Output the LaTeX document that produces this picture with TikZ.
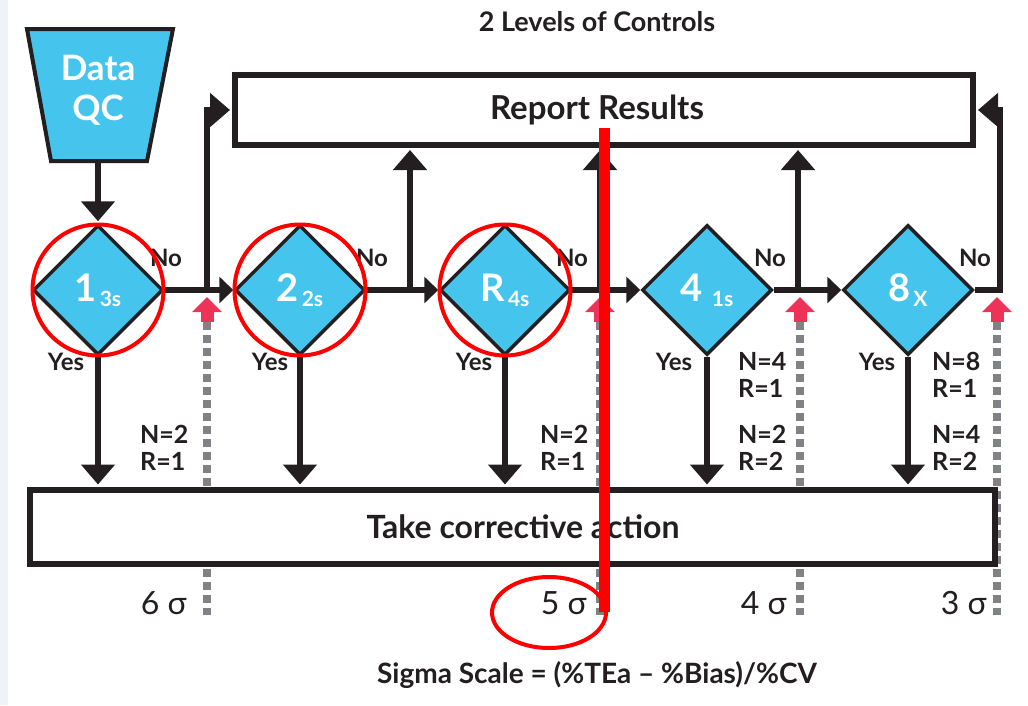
\documentclass[tikz,border=0pt]{standalone}
\usepackage{fontspec}
\setmainfont{Lato}
\usetikzlibrary{arrows.meta,shapes.geometric,calc}
\definecolor{qcblue}{HTML}{45C5EE}
\definecolor{ink}{HTML}{231F20}
\definecolor{markred}{HTML}{FF0000}
\definecolor{limitpink}{HTML}{EE3358}
\definecolor{dashgray}{HTML}{808285}
\definecolor{edgeblue}{HTML}{EEF3FB}
\newcommand\rulesub[2]{#1\kern3pt\raisebox{-5pt}{\fontsize{21}{22}\selectfont #2}}
\tikzset{
  rule/.style={diamond, draw=ink, line width=3.5pt, fill=qcblue, minimum width=130pt, minimum height=130pt, inner sep=0pt, text=white, font=\fontsize{38}{40}\selectfont\bfseries},
  bigbox/.style={draw=ink, line width=6pt, fill=white, inner sep=0pt, text=ink, font=\fontsize{33}{36}\selectfont\bfseries},
  wire/.style={draw=ink, line width=5.5pt},
  flow/.style={wire, shorten >=2pt, -{Triangle[width=33pt,length=20pt]}},
  flowin/.style={wire, -{Triangle[width=26pt,length=14pt]}},
  yesno/.style={text=ink, inner sep=0pt, font=\fontsize{24}{26}\selectfont\bfseries},
  nr/.style={anchor=west, align=left, text=ink, inner sep=0pt, font=\fontsize{25}{27}\selectfont\bfseries},
  limit/.style={draw=dashgray, line width=8pt, dash pattern=on 8pt off 5pt},
  limitarrow/.style={draw=limitpink, line width=13pt, -{Triangle[width=29pt,length=15pt]}},
  sigmatext/.style={anchor=east, text=ink, inner sep=0pt, font=\fontsize{32}{34}\selectfont},
  ring/.style={circle, draw=markred, line width=4pt, minimum size=131pt},
}
\begin{document}
\begin{tikzpicture}[x=1pt,y=-1pt]
\useasboundingbox (0,0) rectangle (1028,705);
\fill[white] (0,0) rectangle (1028,705);
\fill[edgeblue] (0,0) rectangle (8,705);

% limits of the sigma scale, behind the boxes
\coordinate (lim6) at (207,322);
\coordinate (lim5) at (600,322);
\coordinate (lim4) at (800,322);
\coordinate (lim3) at (997,322);
\draw[limit] (lim6) -- ++(0,293);
\draw[limit] (lim5) -- ++(0,293);
\draw[limit] (lim4) -- ++(0,293);
\draw[limit] (lim3) -- ++(0,293);

\node[font=\fontsize{27}{30}\selectfont\bfseries, text=ink] (title) at (597,22) {2 Levels of Controls};
\draw[fill=qcblue, draw=ink, line width=4pt] (27,29) -- (173,29) -- (147,161) -- (51,161) -- cycle;
\node[align=center, text=white, font=\fontsize{35}{40}\selectfont\bfseries] (qc) at (98,90) {Data\\QC};
\coordinate (qcb) at (98,161);
\node[bigbox, minimum width=738pt, minimum height=70pt] (rr) at (604,110) {\hspace*{-14pt}Report Results};
\node[bigbox, minimum width=965pt, minimum height=74pt, font=\fontsize{32}{36}\selectfont\bfseries] (ca) at (512,526.5) {\hspace*{22pt}Take corrective action};

\node[rule] (r13s) at (98,290) {\rulesub{1}{3s}};
\node[rule] (r22s) at (300,290) {\rulesub{2}{2s}};
\node[rule] (rR4s) at (505,290) {\rulesub{R}{4s}};
\node[rule] (r41s) at (707,290) {\rulesub{4\,}{1s}};
\node[rule] (r8x) at (908,290) {\rulesub{8}{X}};

\coordinate (up1) at (207,290);
\coordinate (up2) at (410,290);
\coordinate (up3) at (600,290);
\coordinate (up4) at (798,290);
\coordinate (up5) at (1000,290);

\draw[flow] (qcb) -- (r13s.north);
\draw[flowin] (r13s.east) -- (r22s.west);
\draw[flowin] (r22s.east) -- (rR4s.west);
\draw[flowin] (rR4s.east) -- (r41s.west);
\draw[flowin] (r41s.east) -- (r8x.west);
\draw[flow] (up1) |- (rr.west);
\draw[flow] (up2) -- (up2 |- rr.south);
\draw[flow] (up3) -- (up3 |- rr.south);
\draw[flow] (up4) -- (up4 |- rr.south);
\draw[flow] (r8x.east) -- (up5) |- (rr.east);

% yes: corrective action
\draw[flow] (r13s.south) -- (r13s.south |- ca.north);
\draw[flow] (r22s.south) -- (r22s.south |- ca.north);
\draw[flow] (rR4s.south) -- (rR4s.south |- ca.north);
\draw[flow] (r41s.south) -- (r41s.south |- ca.north);
\draw[flow] (r8x.south) -- (r8x.south |- ca.north);

\node[yesno] (no1) at (166,258) {No};
\node[yesno] (no2) at (372,258) {No};
\node[yesno] (no3) at (572,258) {No};
\node[yesno] (no4) at (770,258) {No};
\node[yesno] (no5) at (975,258) {No};
\node[yesno] (yes1) at (66,362) {Yes};
\node[yesno] (yes2) at (270,362) {Yes};
\node[yesno] (yes3) at (474,362) {Yes};
\node[yesno] (yes4) at (674,362) {Yes};
\node[yesno] (yes5) at (877,362) {Yes};

\node[nr] (nr1) at (140,448) {N=2\\R=1};
\node[nr] (nr3) at (540,448) {N=2\\R=1};
\node[nr] (nr4a) at (738,375) {N=4\\R=1};
\node[nr] (nr4b) at (738,448) {N=2\\R=2};
\node[nr] (nr5a) at (932,375) {N=8\\R=1};
\node[nr] (nr5b) at (932,448) {N=4\\R=2};

\draw[limitarrow] (lim6) -- ++(0,-25);
\draw[limitarrow] (lim5) -- ++(0,-25);
\draw[limitarrow] (lim4) -- ++(0,-25);
\draw[limitarrow] (lim3) -- ++(0,-25);

\node[sigmatext] (s6) at (187,603) {6 σ};
\node[sigmatext] (s5) at (587,603) {5 σ};
\node[sigmatext] (s4) at (787,603) {4 σ};
\node[sigmatext] (s3) at (987,603) {3 σ};
\node[font=\fontsize{28}{30}\selectfont\bfseries, text=ink] (scale) at (597,675) {Sigma Scale = (\%TEa – \%Bias)/\%CV};

% red marks
\node[ring] (ring1) at (r13s) {};
\node[ring] (ring2) at (r22s) {};
\node[ring] (ring3) at (rR4s) {};
\node[ellipse, draw=markred, line width=4pt, minimum width=114pt, minimum height=71pt] (ring5) at (549,612.5) {};
\coordinate (cuttop) at (604,128);
\coordinate (cutbot) at (604,612);
\draw[markred, line width=11pt] (cuttop) -- (cutbot);
\end{tikzpicture}
\end{document}
